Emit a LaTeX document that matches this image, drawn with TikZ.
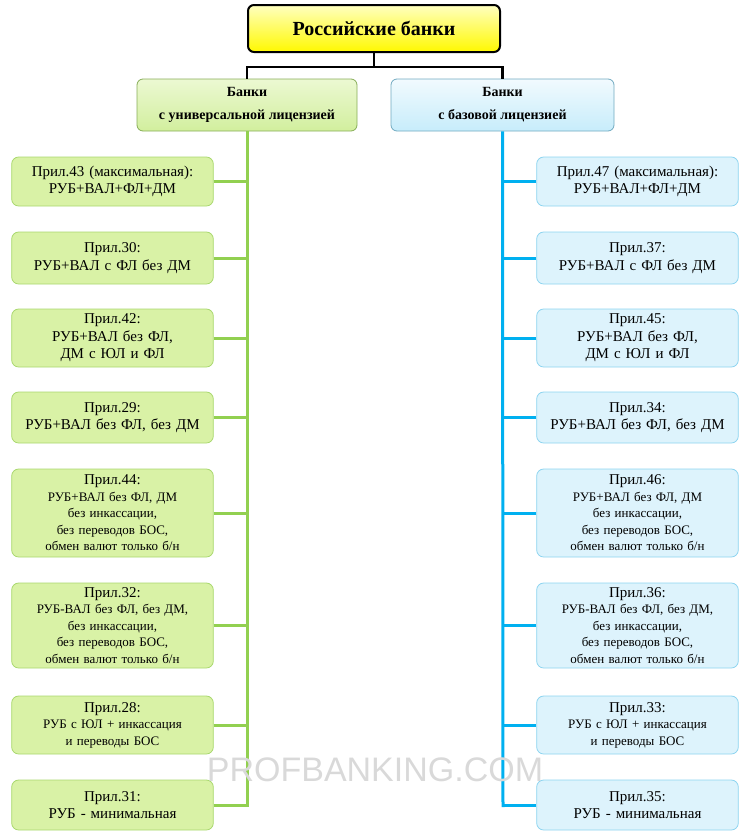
\documentclass[tikz,border=0pt]{standalone}
\usepackage{fontspec}
\setmainfont{Liberation Serif}
\newfontfamily\wm{Liberation Sans}
\definecolor{gline}{HTML}{92D050}
\definecolor{gfill}{HTML}{D9F2A6}
\definecolor{gdraw}{HTML}{A9D86E}
\definecolor{bline}{HTML}{00B0F0}
\definecolor{bfill}{HTML}{DDF3FC}
\definecolor{bdraw}{HTML}{8DD4F0}
\begin{document}
\begin{tikzpicture}[x=1pt,y=-1pt,
 top/.style={draw=black,line width=2pt,rounded corners=6pt,top color=yellow!25,bottom color=yellow!95!orange,font=\fontsize{20}{22}\selectfont\bfseries},
 gmid/.style={draw=gdraw!80!black,line width=0.8pt,rounded corners=6pt,top color=gfill!50,bottom color=gfill!90!gline,align=center,font=\fontsize{14}{23}\selectfont\bfseries},
 bmid/.style={draw=bdraw!80!black,line width=0.8pt,rounded corners=6pt,top color=bfill!40,bottom color=bfill!90!bline,align=center,font=\fontsize{14}{23}\selectfont\bfseries},
 gbox/.style={draw=gdraw,line width=0.8pt,rounded corners=7pt,fill=gfill,align=center,text width=195pt,minimum width=201pt},
 bbox/.style={draw=bdraw,line width=0.8pt,rounded corners=7pt,fill=bfill,align=center,text width=195pt,minimum width=201pt},
 big/.style={font=\fontsize{15}{17.5}\selectfont},
 sml/.style={font=\fontsize{13}{16.5}\selectfont},
 gl/.style={draw=gline,line width=3pt},
 bl/.style={draw=bline,line width=3pt}]
\useasboundingbox (0,0) rectangle (750,839);
\node[top,minimum width=252pt,minimum height=47pt] (t) at (374,28.5) {Российские банки};
\node[gmid,minimum width=220pt,minimum height=52pt] (g) at (247,105) {Банки\\с универсальной лицензией};
\node[bmid,minimum width=223pt,minimum height=52pt] (b) at (502.5,105) {Банки\\с базовой лицензией};
\draw[line width=2.5pt] (t.south) -- ++(0,14) coordinate (tc);
\draw[line width=2.5pt] (g.north) |- (tc) -| (b.north);
\node[gbox,big,minimum height=49pt] (l1) at (112.5,181.5) {Прил.43 (максимальная):\\РУБ+ВАЛ+ФЛ+ДМ};
\node[gbox,big,minimum height=52pt] (l2) at (112.5,258) {Прил.30:\\РУБ+ВАЛ с ФЛ без ДМ};
\node[gbox,big,minimum height=58pt] (l3) at (112.5,338) {Прил.42:\\РУБ+ВАЛ без ФЛ,\\ДМ с ЮЛ и ФЛ};
\node[gbox,big,minimum height=51pt] (l4) at (112.5,417.5) {Прил.29:\\РУБ+ВАЛ без ФЛ, без ДМ};
\node[gbox,sml,minimum height=88pt] (l5) at (112.5,513) {{\fontsize{15}{17}\selectfont Прил.44:}\\РУБ+ВАЛ без ФЛ, ДМ\\без инкассации,\\без переводов БОС,\\обмен валют только б/н};
\node[gbox,sml,minimum height=85pt] (l6) at (112.5,625.5) {{\fontsize{15}{17}\selectfont Прил.32:}\\РУБ-ВАЛ без ФЛ, без ДМ,\\без инкассации,\\без переводов БОС,\\обмен валют только б/н};
\node[gbox,sml,minimum height=58pt] (l7) at (112.5,725) {{\fontsize{15}{17}\selectfont Прил.28:}\\РУБ с ЮЛ + инкассация\\и переводы БОС};
\node[gbox,big,minimum height=50pt] (l8) at (112.5,805) {Прил.31:\\РУБ - минимальная};
\node[bbox,big,minimum height=49pt] (r1) at (637.5,181.5) {Прил.47 (максимальная):\\РУБ+ВАЛ+ФЛ+ДМ};
\node[bbox,big,minimum height=52pt] (r2) at (637.5,258) {Прил.37:\\РУБ+ВАЛ с ФЛ без ДМ};
\node[bbox,big,minimum height=58pt] (r3) at (637.5,338) {Прил.45:\\РУБ+ВАЛ без ФЛ,\\ДМ с ЮЛ и ФЛ};
\node[bbox,big,minimum height=51pt] (r4) at (637.5,417.5) {Прил.34:\\РУБ+ВАЛ без ФЛ, без ДМ};
\node[bbox,sml,minimum height=88pt] (r5) at (637.5,513) {{\fontsize{15}{17}\selectfont Прил.46:}\\РУБ+ВАЛ без ФЛ, ДМ\\без инкассации,\\без переводов БОС,\\обмен валют только б/н};
\node[bbox,sml,minimum height=85pt] (r6) at (637.5,625.5) {{\fontsize{15}{17}\selectfont Прил.36:}\\РУБ-ВАЛ без ФЛ, без ДМ,\\без инкассации,\\без переводов БОС,\\обмен валют только б/н};
\node[bbox,sml,minimum height=58pt] (r7) at (637.5,725) {{\fontsize{15}{17}\selectfont Прил.33:}\\РУБ с ЮЛ + инкассация\\и переводы БОС};
\node[bbox,big,minimum height=50pt] (r8) at (637.5,805) {Прил.35:\\РУБ - минимальная};
\coordinate (le) at (247,807);
\coordinate (re) at (503,807);
\draw[gl] (g.south) -- (le);
\draw[bl] (b.south) -- (re);
\foreach \i in {1,...,8}{
 \draw[gl] (l\i.east) -- ([xshift=1.5pt]l\i.east -| le);
 \draw[bl] (r\i.west) -- ([xshift=-1.5pt]r\i.west -| re);
}
\node[text=gray!30,font=\wm\fontsize{34}{34}\selectfont] (w) at (375,770) {PROFBANKING.COM};
\end{tikzpicture}
\end{document}
